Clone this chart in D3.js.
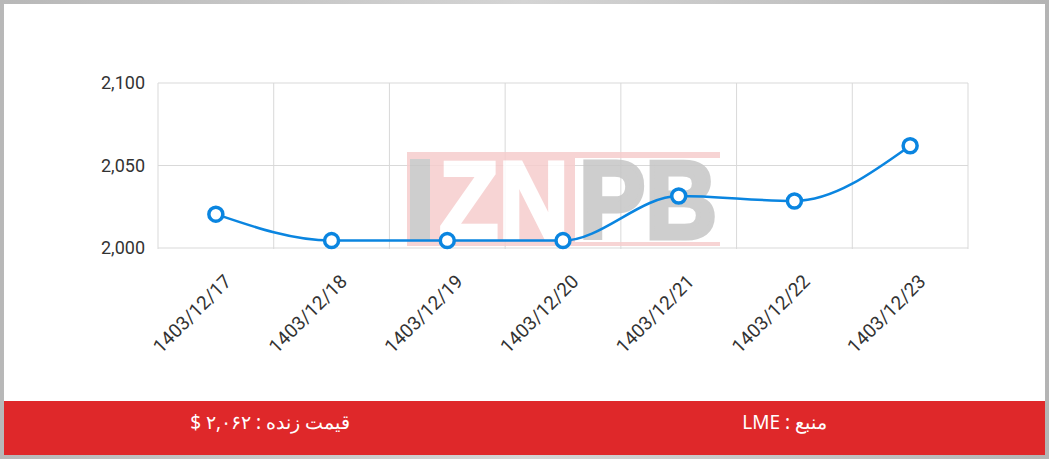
<!DOCTYPE html>
<html>
<head>
<meta charset="utf-8">
<script src="https://cdn.jsdelivr.net/npm/d3@7"></script>
<style>
  body { margin: 0; background: #c4c4c4; }
  svg { display: block; }
</style>
</head>
<body>
<div id="my_dataviz"></div>
<script>
// data
var dates = ["1403/12/17", "1403/12/18", "1403/12/19", "1403/12/20", "1403/12/21", "1403/12/22", "1403/12/23"];
var prices = [2020.5, 2004.5, 2004.5, 2004.5, 2031.5, 2028.5, 2062];
var yTicks = [2000, 2050, 2100];
var footerPrice = "قیمت زنده : ۲,۰۶۲ $";
var footerSource = "منبع : LME";

var W = 1049, H = 459;
var margin = {top: 83, right: 81, bottom: 211, left: 158},
  width = W - margin.left - margin.right,
  height = H - margin.top - margin.bottom;

var svg = d3.select("#my_dataviz")
  .append("svg")
  .attr("width", W)
  .attr("height", H);

// gray frame + white card
var defs = svg.append("defs");
var grad = defs.append("linearGradient").attr("id", "frame").attr("x1", 0).attr("x2", 1);
grad.append("stop").attr("offset", "0%").attr("stop-color", "#b8b8b8");
grad.append("stop").attr("offset", "50%").attr("stop-color", "#d4d4d4");
grad.append("stop").attr("offset", "100%").attr("stop-color", "#b4b4b4");
svg.append("rect").attr("width", W).attr("height", H).attr("fill", "url(#frame)");
svg.append("rect").attr("x", 4).attr("y", 4).attr("width", 1041).attr("height", 451).attr("fill", "#fff");

var g = svg.append("g")
  .attr("transform", "translate(" + margin.left + "," + margin.top + ")");

var x = d3.scaleBand().domain(dates).range([0, width]).padding(0);
var y = d3.scaleLinear().domain([2000, 2100]).range([height, 0]);

// grid
g.append("g")
  .selectAll("line")
  .data(yTicks)
  .enter().append("line")
    .attr("x1", 0).attr("x2", width)
    .attr("y1", function(d) { return y(d); })
    .attr("y2", function(d) { return y(d); })
    .attr("stroke", "#d9d9d9").attr("stroke-width", 1);
var edges = dates.map(function(d) { return x(d); }).concat([width]);
g.append("g")
  .selectAll("line")
  .data(edges)
  .enter().append("line")
    .attr("x1", function(d) { return d; }).attr("x2", function(d) { return d; })
    .attr("y1", 0).attr("y2", height + 1)
    .attr("stroke", "#d9d9d9").attr("stroke-width", 1);

// watermark logo
var wm = g.append("g")
  .attr("transform", "translate(" + (407 - margin.left) + "," + (152 - margin.top) + ")")
  .attr("opacity", 0.85);
wm.append("rect").attr("x", 0).attr("y", 0).attr("width", 168).attr("height", 94).attr("fill", "#f6cdcd");
wm.append("rect").attr("x", 168).attr("y", 0).attr("width", 145).attr("height", 6).attr("fill", "#f6cdcd");
wm.append("rect").attr("x", 168).attr("y", 90).attr("width", 145).attr("height", 4).attr("fill", "#f6cdcd");
wm.append("rect").attr("x", 3).attr("y", 7).attr("width", 20).attr("height", 81).attr("fill", "#c6c6c6");
wm.append("text")
  .attr("x", 32).attr("y", 86)
  .attr("textLength", 130).attr("lengthAdjust", "spacingAndGlyphs")
  .style("font-family", "Liberation Sans, Arial, sans-serif")
  .style("font-weight", "bold").style("font-size", "110px")
  .attr("fill", "#fff").attr("stroke", "#fff").attr("stroke-width", 4)
  .text("ZN");
wm.append("text")
  .attr("x", 172).attr("y", 86)
  .attr("textLength", 138).attr("lengthAdjust", "spacingAndGlyphs")
  .style("font-family", "Liberation Sans, Arial, sans-serif")
  .style("font-weight", "bold").style("font-size", "110px")
  .attr("fill", "#c6c6c6").attr("stroke", "#c6c6c6").attr("stroke-width", 5)
  .text("PB");

// y axis labels
g.append("g")
  .selectAll("text")
  .data(yTicks)
  .enter().append("text")
    .attr("x", -13)
    .attr("y", function(d) { return y(d); })
    .attr("dy", "0.35em")
    .attr("text-anchor", "end")
    .style("font-family", "Roboto")
    .style("font-size", "18px")
    .attr("fill", "#333")
    .text(function(d) { return d3.format(",")(d); });

// x axis labels, rotated
g.append("g")
  .selectAll("text")
  .data(dates)
  .enter().append("text")
    .attr("transform", function(d) {
      return "translate(" + (x(d) + x.bandwidth() / 2 + 12) + "," + (height + 30) + ") rotate(-45)";
    })
    .attr("dy", "0.35em")
    .attr("text-anchor", "end")
    .style("font-family", "Roboto")
    .style("font-size", "19px")
    .attr("fill", "#333")
    .text(function(d) { return d; });

// line
var line = d3.line()
  .x(function(d, i) { return x(dates[i]) + x.bandwidth() / 2; })
  .y(function(d) { return y(d); })
  .curve(d3.curveMonotoneX);
g.append("path")
  .datum(prices)
  .attr("d", line)
  .attr("fill", "none")
  .attr("stroke", "#0a85e0")
  .attr("stroke-width", 2.5);

g.selectAll("circle")
  .data(prices)
  .enter().append("circle")
    .attr("cx", function(d, i) { return x(dates[i]) + x.bandwidth() / 2; })
    .attr("cy", function(d) { return y(d); })
    .attr("r", 7)
    .attr("fill", "#fff")
    .attr("stroke", "#0a85e0")
    .attr("stroke-width", 3.5);

// footer
svg.append("rect").attr("x", 4).attr("y", 401).attr("width", 1041).attr("height", 54).attr("fill", "#df282a");
svg.append("text")
  .attr("x", 350).attr("y", 422)
  .attr("dy", "0.35em")
  .attr("direction", "rtl")
  .attr("text-anchor", "start")
  .style("font-family", "Noto Sans, sans-serif")
  .style("font-size", "19px")
  .attr("fill", "#fff")
  .text(footerPrice);
svg.append("text")
  .attr("x", 827).attr("y", 422)
  .attr("dy", "0.35em")
  .attr("direction", "rtl")
  .attr("text-anchor", "start")
  .style("font-family", "Noto Sans, sans-serif")
  .style("font-size", "19px")
  .attr("fill", "#fff")
  .text(footerSource);
</script>
</body>
</html>
